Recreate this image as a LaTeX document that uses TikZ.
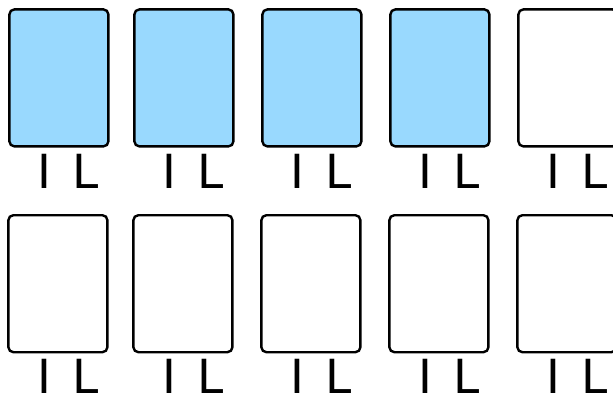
\documentclass[tikz,border=0pt]{standalone}
\usepackage{fontspec}
\setmainfont{DejaVu Sans}
\definecolor{cellblue}{RGB}{153,217,254}
\tikzset{
  cell/.style={draw=black, line width=2.4pt, rounded corners=5pt, minimum width=99pt, minimum height=137pt, inner sep=0pt, anchor=north west},
  blue/.style={fill=cellblue},
  white/.style={fill=white},
  lab/.style={inner sep=0pt, anchor=base, font=\fontsize{47}{47}\selectfont}
}
\begin{document}
\begin{tikzpicture}[x=1pt,y=-1pt]
\useasboundingbox (0,0) rectangle (613,401);
\clip (0,0) rectangle (613,401);
\foreach \c/\x/\f in {1/7/blue,2/132/blue,3/260/blue,4/388/blue,5/516/white}{
  \node[cell,\f] (b1\c) at (\x+1.2,8.2) {};
  \node[lab] (i1\c) at (\x+37.5,188) {I};
  \node[lab] (l1\c) at (\x+79,188) {L};
}
\foreach \c/\x in {1/7,2/132,3/260,4/388,5/516}{
  \node[cell,white] (b2\c) at (\x+0.2,214) {};
  \node[lab] (i2\c) at (\x+37.5,393) {I};
  \node[lab] (l2\c) at (\x+79,393) {L};
}
\end{tikzpicture}
\end{document}
